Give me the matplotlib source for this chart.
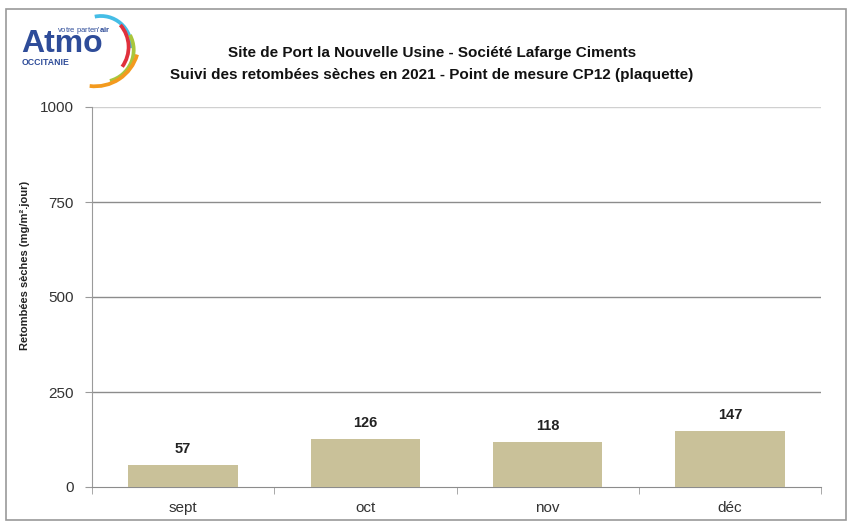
import matplotlib.pyplot as plt
import numpy as np
from matplotlib.patches import Arc, Rectangle

plt.rcParams["font.family"] = ["Liberation Sans", "DejaVu Sans"]
plt.rcParams["mathtext.fontset"] = "custom"
plt.rcParams["mathtext.rm"] = "Liberation Sans"
plt.rcParams["mathtext.bf"] = "Liberation Sans:bold"

months = ["sept", "oct", "nov", "déc"]
values = [57, 126, 118, 147]
yticks = [0, 250, 500, 750, 1000]

TITLE = ("Site de Port la Nouvelle Usine - Société Lafarge Ciments\n"
         "Suivi des retombées sèches en 2021 - Point de mesure CP12 (plaquette)")
YLABEL = "Retombées sèches (mg/m².jour)"

W, H = 850, 526
fig = plt.figure(figsize=(W / 100, H / 100), dpi=100)

# outer frame
fig.patches.append(Rectangle((6 / W, 0.012), 0.995 - 6 / W, 1 - 9 / H - 0.012,
                             transform=fig.transFigure, fill=False,
                             edgecolor="#9A9A9A", linewidth=1.2))

ax = fig.add_axes([92 / W, 1 - 487 / H, 729 / W, 380 / H])
x = np.arange(len(months))
ax.bar(x, values, width=0.6, color="#C9C199", zorder=3)
for xi, v in zip(x, values):
    ax.text(xi, v + 25, str(v), ha="center", va="bottom",
            fontsize=10.5, fontweight="bold", color="#222222")

ax.set_xlim(-0.5, len(months) - 0.5)
ax.set_ylim(0, 1000)
ax.set_yticks(yticks)
ax.set_yticklabels([str(t) for t in yticks], fontsize=11, color="#333333")
ax.set_xticks(x)
ax.set_xticklabels(months, fontsize=11, color="#333333")
ax.set_xticks(np.arange(-0.5, len(months)), minor=True)
ax.tick_params(axis="x", which="major", length=0, pad=10)
ax.tick_params(axis="x", which="minor", length=5, color="#9A9A9A")
ax.tick_params(axis="y", length=5, color="#9A9A9A", pad=8)

for t in yticks[1:]:
    ax.axhline(t, color="#D0D0D0" if t == 1000 else "#8C8C8C",
               linewidth=1.0, zorder=1)
for side in ["top", "right"]:
    ax.spines[side].set_visible(False)
ax.spines["left"].set_color("#9A9A9A")
ax.spines["bottom"].set_color("#8C8C8C")

fig.text(25 / W, 1 - 265 / H, YLABEL, rotation=90, ha="center", va="center",
         fontsize=8, fontweight="bold", color="#222222")
fig.text(432 / W, 1 - 64 / H, TITLE, ha="center", va="center",
         fontsize=11, fontweight="bold", color="#111111", linespacing=1.65)

# logo
blue = "#2E4C99"
fig.text(21 / W, 1 - 52 / H, "Atmo", fontsize=23, fontweight="bold",
         color=blue, ha="left", va="baseline")
fig.text(22 / W, 1 - 58 / H, "OCCITANIE", fontsize=6.3, fontweight="bold",
         color=blue, ha="left", va="top")
fig.text(57 / W, 1 - 30 / H, r"votre parten'$\mathbf{air}$", fontsize=5.5,
         color=blue, ha="left", va="center")

lax = fig.add_axes([50 / W, 1 - 95 / H, 100 / W, 90 / H])
lax.set_xlim(50, 150)
lax.set_ylim(H - 95, H - 5)
lax.axis("off")
# (centre x, centre y from top, radius, start angle, end angle, colour)
arcs = [
    (101, 46, 30, -4, 102, "#45BDE6"),
    (95, 47, 33.6, -36, 41, "#E0303C"),
    (101.7, 50, 32, -75, 28, "#A9C63C"),
    (95, 42.5, 43.8, -97, -16, "#F39A1E"),
]
for ax_c, ay_c, r, t1, t2, c in arcs:
    lax.add_patch(Arc((ax_c, H - ay_c), 2 * r, 2 * r, theta1=t1, theta2=t2,
                      color=c, linewidth=2.7))

fig.savefig("out.png", dpi=100)
